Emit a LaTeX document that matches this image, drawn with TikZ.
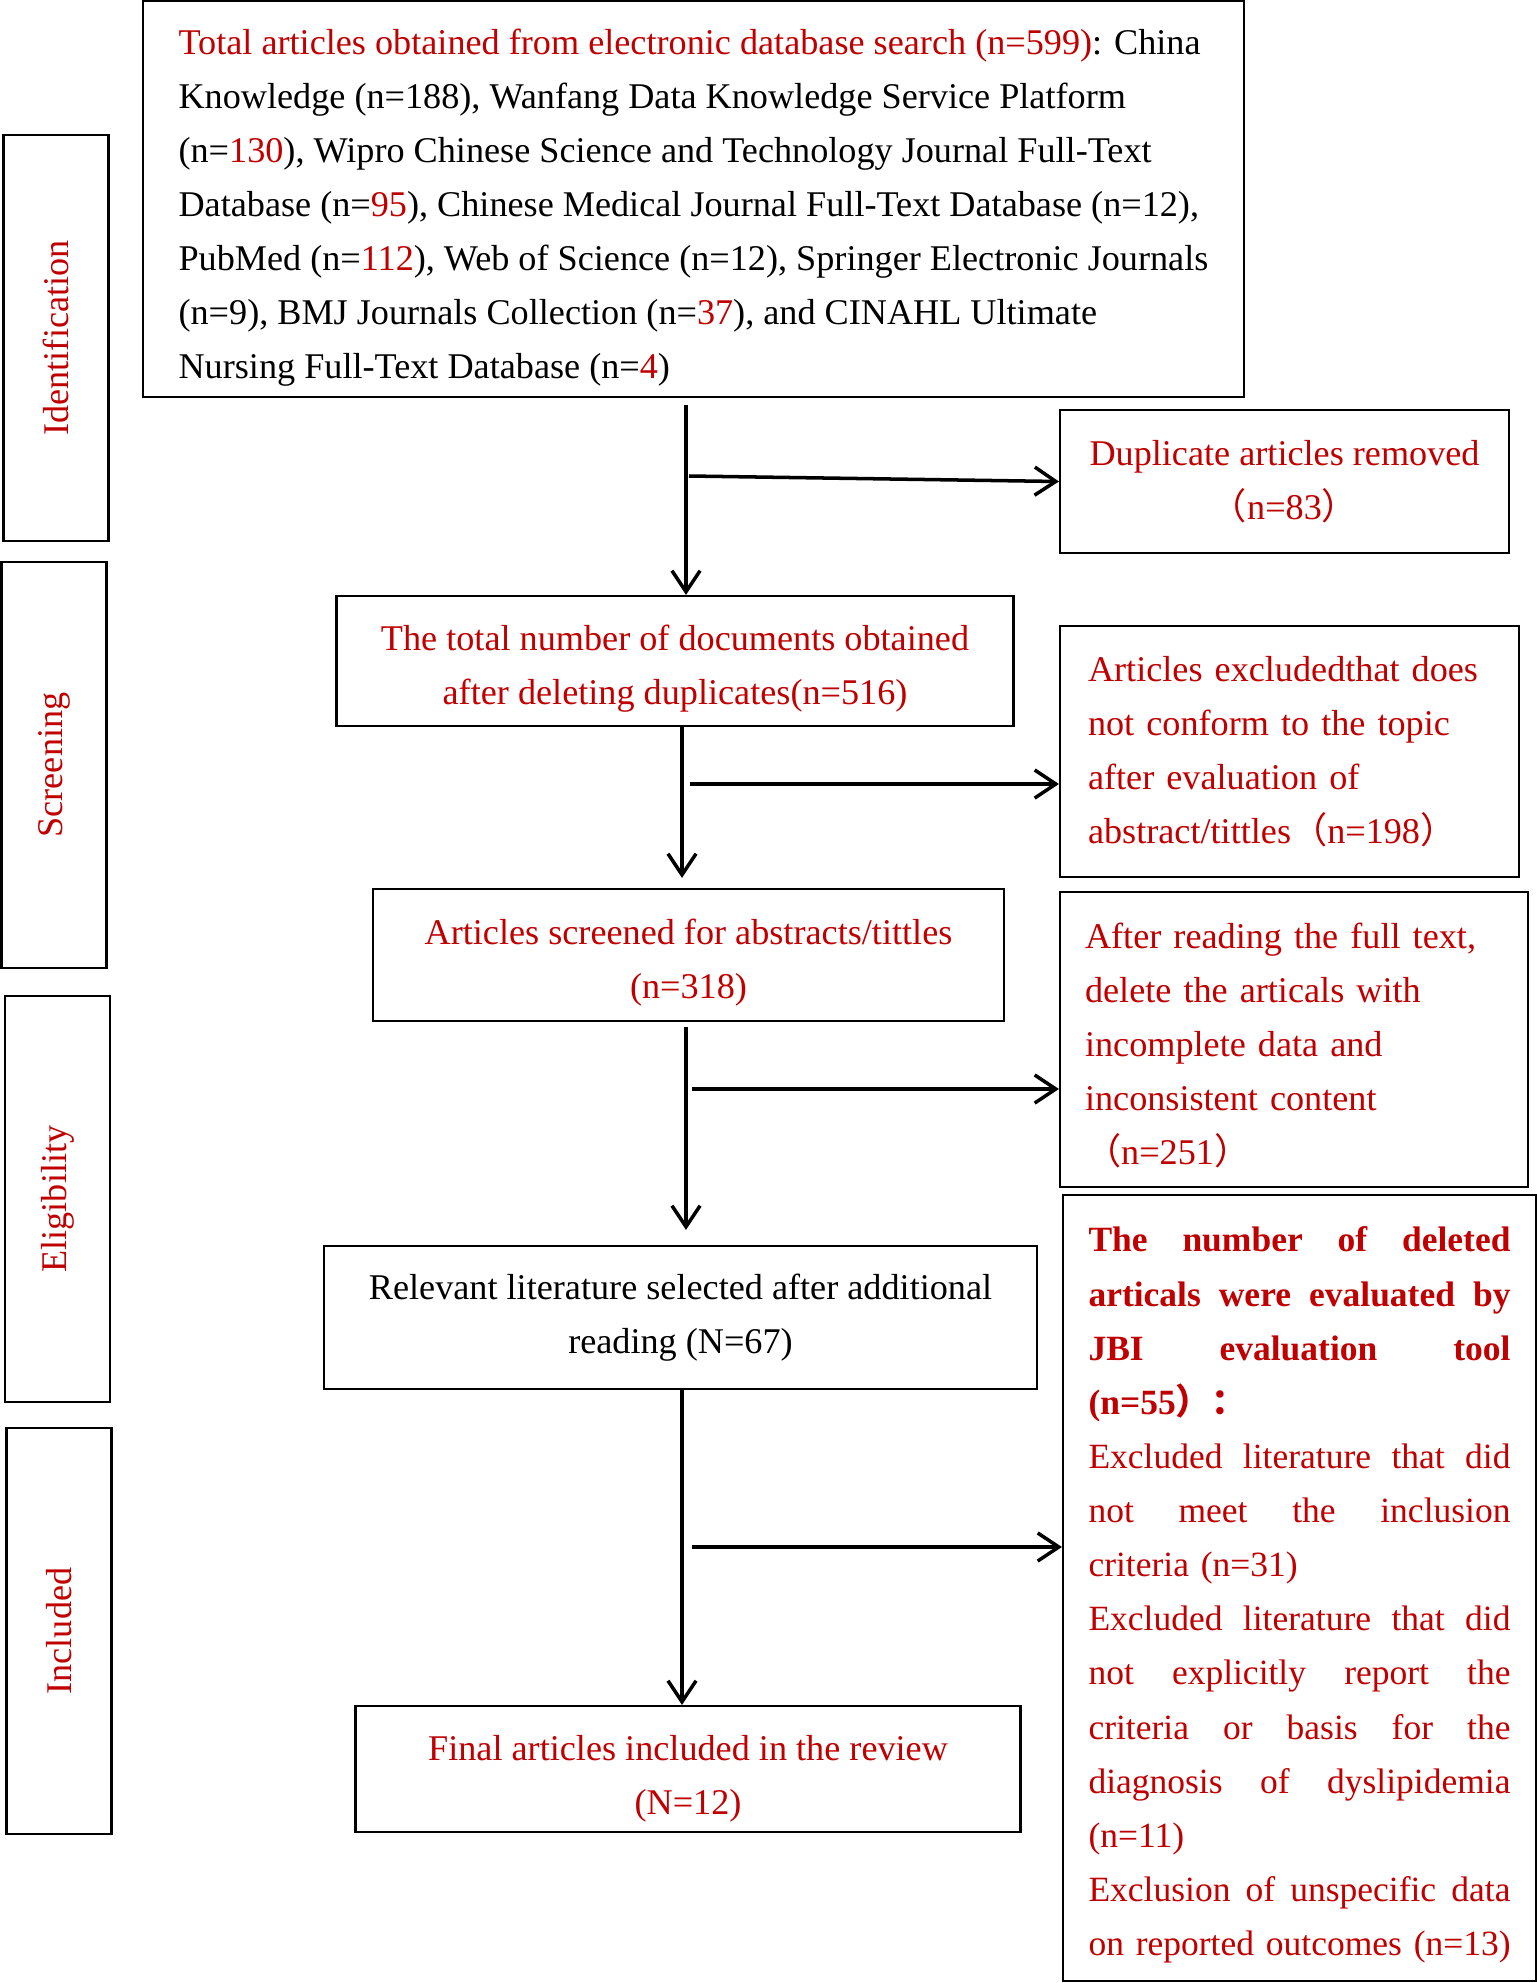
\documentclass[tikz,border=0pt]{standalone}
\usepackage{fontspec}
\setmainfont{Liberation Serif}
\newfontfamily\cjk{Noto Sans CJK SC}
\usetikzlibrary{arrows.meta}
\definecolor{dred}{RGB}{192,0,0}
\newcommand{\fw}[1]{{\cjk #1}}
% justified line and last line of a paragraph
\newcommand{\jl}[1]{\hbox to\hsize{\spaceskip=.25em plus 1fil\xspaceskip=\spaceskip\relax #1}}
\newcommand{\lastline}[1]{\hbox{#1}}
% pushes the text of a box a little down
\newcommand{\topstrut}[1]{\rule{0pt}{#1pt}}

\tikzset{
	box/.style={draw, line width=0.6pt, inner sep=0pt, font=\fontsize{10.3}{15.4}\selectfont},
	side/.style={box, rotate=90, text=dred, minimum width=4.06cm, minimum height=1.05cm},
	arr/.style={-{Straight Barb[length=6pt,width=8pt]}, line width=1pt},
}

\begin{document}
\begin{tikzpicture}
	\useasboundingbox[fill=white] (0,0) rectangle (15.37,-19.83);

	% phase labels
	\node[side] (ident) at (0.56,-3.38) {Identification};
	\node[side] (screen) at (0.54,-7.65) {Screening};
	\node[side] (elig) at (0.575,-11.99) {Eligibility};
	\node[side] (incl) at (0.59,-16.31) {Included};

	% main column
	\node[box, minimum width=11.01cm, minimum height=3.96cm, align=left] (search) at (6.935,-1.99)
		{\topstrut{12.2}\textcolor{dred}{Total articles obtained from electronic database search (n=599)}: China\\
		 Knowledge (n=188), Wanfang Data Knowledge Service Platform\\
		 (n=\textcolor{dred}{130}), Wipro Chinese Science and Technology Journal Full-Text\\
		 Database (n=\textcolor{dred}{95}), Chinese Medical Journal Full-Text Database (n=12),\\
		 PubMed (n=\textcolor{dred}{112}), Web of Science (n=12), Springer Electronic Journals\\
		 (n=9), BMJ Journals Collection (n=\textcolor{dred}{37}), and CINAHL Ultimate\\
		 Nursing Full-Text Database (n=\textcolor{dred}{4})};
	\node[box, text=dred, minimum width=6.77cm, minimum height=1.30cm, align=center] (dedup) at (6.75,-6.61)
		{\topstrut{11.4}The total number of documents obtained\\ after deleting duplicates(n=516)};
	\node[box, text=dred, minimum width=6.31cm, minimum height=1.32cm, align=center] (screened) at (6.885,-9.55)
		{\topstrut{11.8}Articles screened for abstracts/tittles\\ (n=318)};
	\node[box, minimum width=7.13cm, minimum height=1.43cm, align=center] (selected) at (6.805,-13.175)
		{Relevant literature selected after additional\\ reading (N=67)};
	\node[box, text=dred, minimum width=6.65cm, minimum height=1.26cm, align=center] (included) at (6.88,-17.69)
		{\topstrut{12.9}Final articles included in the review\\ (N=12)};

	% exclusions
	\node[box, text=dred, minimum width=4.49cm, minimum height=1.43cm, align=center] (dup) at (12.845,-4.815)
		{Duplicate articles removed\\ \fw{（}n=83\fw{）}};
	\node[box, text=dred, minimum width=4.59cm, minimum height=2.51cm, text width=4.03cm, align=left] (excl1) at (12.895,-7.515)
		{Articles excludedthat does\\ not conform to the topic\\ after evaluation of\\ abstract/tittles\fw{（}n=198\fw{）}};
	\node[box, text=dred, minimum width=4.68cm, minimum height=2.95cm, text width=4.18cm, align=left] (excl2) at (12.94,-10.395)
		{\topstrut{10.7}After reading the full text,\\ delete the articals with\\ incomplete data and\\ inconsistent content\\ \fw{（}n=251\fw{）}};
	\node[box, text=dred, minimum width=4.73cm, minimum height=7.86cm, text width=4.22cm,
	      font=\fontsize{10.1}{15.4}\selectfont] (excl3) at (12.995,-15.88)
		{\jl{\topstrut{11.1}\bfseries The number of deleted}
		 \jl{\bfseries articals were evaluated by}
		 \jl{\bfseries JBI evaluation tool}
		 \lastline{\bfseries (n=55\fw{）：}}
		 \jl{Excluded literature that did}
		 \jl{not meet the inclusion}
		 \lastline{criteria (n=31)}
		 \jl{Excluded literature that did}
		 \jl{not explicitly report the}
		 \jl{criteria or basis for the}
		 \jl{diagnosis of dyslipidemia}
		 \lastline{(n=11)}
		 \jl{Exclusion of unspecific data}
		 \lastline{on reported outcomes (n=13)}};

	% connectors
	\coordinate (a1) at (6.86,-4.05);
	\coordinate (b1) at (6.89,-4.76);
	\coordinate (a2) at (6.82,-7.26);
	\coordinate (b2) at (6.90,-7.84);
	\coordinate (a3) at (6.86,-10.27);
	\coordinate (b3) at (6.92,-10.89);
	\coordinate (a4) at (6.82,-13.89);
	\coordinate (b4) at (6.92,-15.47);

	\draw[arr] (a1) -- (a1 |- dedup.north);
	\draw[arr] (b1) -- (dup.west);
	\draw[arr] (a2) -- ([yshift=1mm]a2 |- screened.north);
	\draw[arr] (b2) -- (b2 -| excl1.west);
	\draw[arr] (a3) -- ([yshift=1.5mm]a3 |- selected.north);
	\draw[arr] (b3) -- (b3 -| excl2.west);
	\draw[arr] (a4) -- (a4 |- included.north);
	\draw[arr] (b4) -- (b4 -| excl3.west);
\end{tikzpicture}
\end{document}
